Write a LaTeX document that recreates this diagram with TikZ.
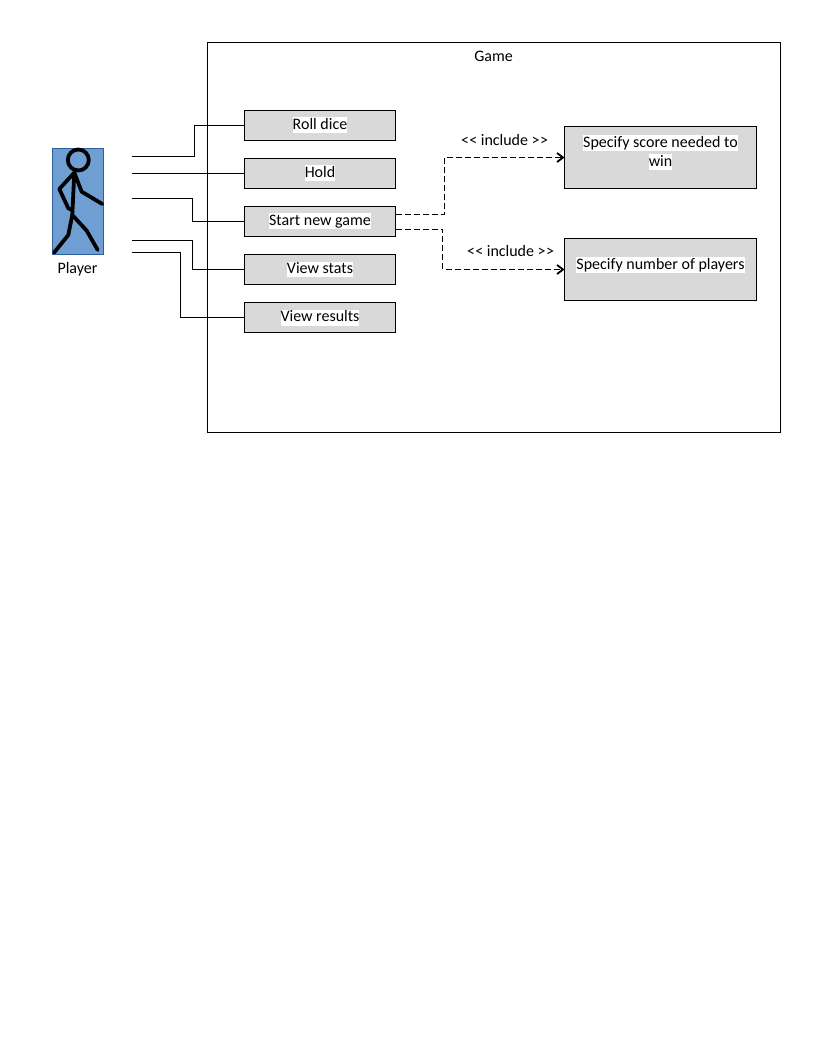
\documentclass[tikz,border=0pt]{standalone}
\usepackage{fontspec}
\setmainfont{Carlito}
\usetikzlibrary{arrows.meta}
\definecolor{boxgray}{HTML}{D9D9D9}
\definecolor{figfill}{HTML}{6F9FD2}
\definecolor{figline}{HTML}{2F5F9E}
\newcommand{\hlt}[1]{{\setlength{\fboxsep}{0pt}\colorbox{white}{\rule[-4pt]{0pt}{16pt}#1}}}
\tikzset{
  every node/.style={font=\fontsize{16pt}{19pt}\selectfont, inner sep=0pt, outer sep=0pt},
  usecase/.style={draw=black, fill=boxgray, line width=1pt, minimum width=151pt, minimum height=30pt, anchor=center},
  bigcase/.style={draw=black, fill=boxgray, line width=1pt, minimum width=192pt, minimum height=62pt, anchor=center},
  assoc/.style={draw=black, line width=1pt},
  incl/.style={draw=black, line width=1pt, dash pattern=on 6pt off 3pt, -{Straight Barb[length=6pt,width=9pt,line width=1.8pt]}},
  limb/.style={draw=black, line width=3.8pt, line cap=round, line join=round}
}
\begin{document}
\begin{tikzpicture}[x=1pt,y=-1pt]
\useasboundingbox (0,0) rectangle (816,1056);
\fill[white] (0,0) rectangle (816,1056);
% system boundary
\node[draw=black, line width=1pt, minimum width=573pt, minimum height=390pt] (game) at (494,237.5) {};
\node (gametitle) at (493.5,56) {Game};
% actor
\node[draw=figline, fill=figfill, line width=1pt, minimum width=51pt, minimum height=106pt] (actor) at (78,201.5) {};
\draw[limb] (78.3,160) circle (10.5);
\draw[limb] (74.3,172.7) -- (72.3,215) -- (68.3,235) -- (54,252.7);
\draw[limb] (59.3,189) -- (74.3,172.7) -- (81.7,191.7) -- (102.3,204);
\draw[limb] (59.3,189) -- (68.3,208.3) -- (72,210);
\draw[limb] (72.3,215) -- (86.7,230.7) -- (97.7,250);
\node (player) at (77.5,269) {Player};
% use cases
\node[usecase] (roll) at (320,125.5) {\raisebox{1pt}{\hlt{Roll dice}}};
\node[usecase] (hold) at (320,173.5) {\raisebox{1pt}{\hlt{Hold}}};
\node[usecase] (start) at (320,221.5) {\raisebox{1pt}{\hlt{Start new game}}};
\node[usecase] (stats) at (320,269.5) {\raisebox{1pt}{\hlt{View stats}}};
\node[usecase] (results) at (320,317.5) {\raisebox{1pt}{\hlt{View results}}};
\node[bigcase] (score) at (660.5,157.5) {};
\node[bigcase] (players) at (660.5,269.5) {};
\node[align=center] (scoretext) at (660.5,152.8) {\hlt{Specify score needed to}\\\hlt{win}};
\node (playerstext) at (660.5,265.3) {\hlt{Specify number of players}};
% actor connector ends
\coordinate (a1) at (132,156.5);
\coordinate (a2) at (132,173.5);
\coordinate (a3) at (132,198.5);
\coordinate (a4) at (132,240.5);
\coordinate (a5) at (132,252.5);
\draw[assoc] (a1) -- (194.5,156.5) |- (roll.west);
\draw[assoc] (a2) -- (hold.west);
\draw[assoc] (a3) -- (192.5,198.5) |- (start.west);
\draw[assoc] (a4) -- (192.5,240.5) |- (stats.west);
\draw[assoc] (a5) -- (180.5,252.5) |- (results.west);
% includes
\coordinate (s1) at (395.5,214.5);
\coordinate (s2) at (395.5,229.5);
\draw[incl] (s1) -- (444.5,214.5) |- (score.west);
\draw[incl] (s2) -- (442.5,229.5) |- (players.west);
\node (inc1) at (504.5,140) {<\kern0.3pt< include >\kern0.3pt>};
\node (inc2) at (510.5,251) {<\kern0.3pt< include >\kern0.3pt>};
\end{tikzpicture}
\end{document}
